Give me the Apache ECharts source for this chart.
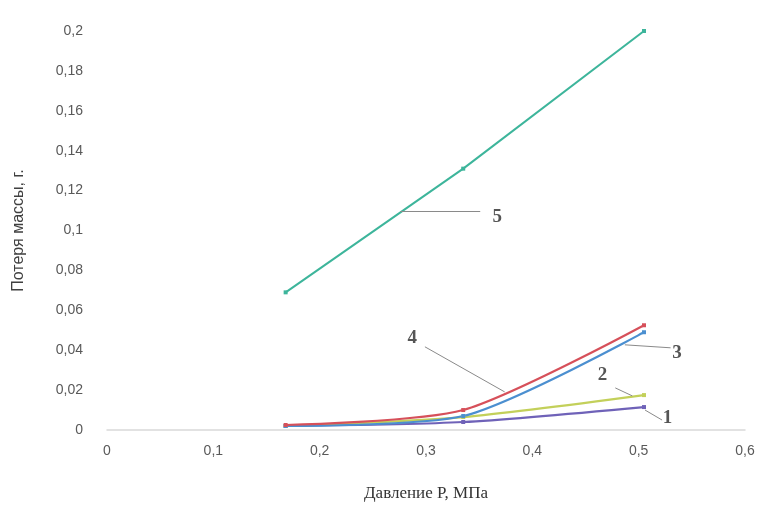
<!DOCTYPE html>
<html>
<head>
<meta charset="utf-8">
<script src="https://cdn.jsdelivr.net/npm/echarts@6/dist/echarts.min.js"></script>
<style>
  html, body { margin: 0; padding: 0; background: #fff; }
  #chart { width: 763px; height: 509px; }
</style>
</head>
<body>
<div id="chart"></div>
<script>
// Pressure, MPa
const pressure = [0.168, 0.335, 0.505];

// Mass loss, g (curves 1..5)
const curve1 = [0.002, 0.004, 0.0115];
const curve2 = [0.002, 0.0065, 0.0175];
const curve3 = [0.002, 0.007, 0.049];
const curve4 = [0.0025, 0.010, 0.0525];
const curve5 = [0.069, 0.131, 0.2];

const curveNames = ['1', '2', '3', '4', '5'];
const curveColors = ['#6f62b8', '#c3d05a', '#4b8fd0', '#d6505a', '#3db59b'];

// curve number callouts: text position and leader line, in data units
const calloutText = ['1', '2', '3', '4', '5'];
const calloutAt = [[0.527, 0.006], [0.466, 0.0276], [0.536, 0.0385], [0.287, 0.0462], [0.367, 0.1065]];
const leaderFrom = [[0.506, 0.010], [0.478, 0.0211], [0.487, 0.0427], [0.299, 0.0417], [0.276, 0.1095]];
const leaderTo = [[0.522, 0.005], [0.494, 0.0171], [0.530, 0.0412], [0.374, 0.0191], [0.351, 0.1095]];

const fmt = (v) => {
  if (v === 0) return '0';
  return String(parseFloat(v.toFixed(2))).replace('.', ',');
};

const chart = echarts.init(document.getElementById('chart'));

const curves = [curve1, curve2, curve3, curve4, curve5];

const lineSeries = curves.map((vals, i) => ({
  name: curveNames[i],
  type: 'line',
  data: vals.map((v, j) => [pressure[j], v]),
  smooth: i < 4 ? 0.25 : false,
  symbol: 'rect',
  symbolSize: 4,
  lineStyle: { width: i < 4 ? 2.2 : 2, color: curveColors[i] },
  itemStyle: { color: curveColors[i] },
  z: i === 3 ? 5 : 3,
}));

const option = {
  animation: false,
  backgroundColor: '#fff',
  grid: { left: 107, right: 18, top: 31, bottom: 79 },
  xAxis: {
    type: 'value',
    min: 0,
    max: 0.6,
    interval: 0.1,
    name: 'Давление P, МПа',
    nameLocation: 'middle',
    nameGap: 55,
    nameTextStyle: { fontFamily: 'Liberation Serif', fontSize: 17, color: '#333' },
    axisLine: { show: true, lineStyle: { color: '#d9d9d9', width: 1.5 } },
    axisTick: { show: false },
    splitLine: { show: false },
    axisLabel: {
      formatter: fmt,
      fontFamily: 'Liberation Sans',
      fontSize: 14,
      color: '#595959',
      margin: 14,
    },
  },
  yAxis: {
    type: 'value',
    min: 0,
    max: 0.2,
    interval: 0.02,
    name: 'Потеря массы, г.',
    nameLocation: 'middle',
    nameRotate: 90,
    nameGap: 80,
    nameTextStyle: { fontFamily: 'Liberation Sans', fontSize: 16, color: '#404040' },
    axisLine: { show: false },
    axisTick: { show: false },
    splitLine: { show: false },
    axisLabel: {
      formatter: fmt,
      fontFamily: 'Liberation Sans',
      fontSize: 14,
      color: '#595959',
      margin: 24,
    },
  },
  series: [
    ...lineSeries,
    {
      name: 'leaders',
      type: 'line',
      data: [],
      silent: true,
      markLine: {
        symbol: ['none', 'none'],
        animation: false,
        label: { show: false },
        lineStyle: { color: '#8a8a8a', width: 1, type: 'solid' },
        data: leaderFrom.map((p, i) => [{ coord: p }, { coord: leaderTo[i] }]),
      },
    },
    {
      name: 'callouts',
      type: 'scatter',
      symbolSize: 0,
      silent: true,
      data: calloutAt.map((p, i) => ({ value: p, name: calloutText[i] })),
      label: {
        show: true,
        position: 'inside',
        formatter: (p) => p.name,
        fontFamily: 'Liberation Serif',
        fontSize: 19,
        fontWeight: 'bold',
        color: '#2a2a2a',
      },
    },
  ],
};

chart.setOption(option);
</script>
</body>
</html>
